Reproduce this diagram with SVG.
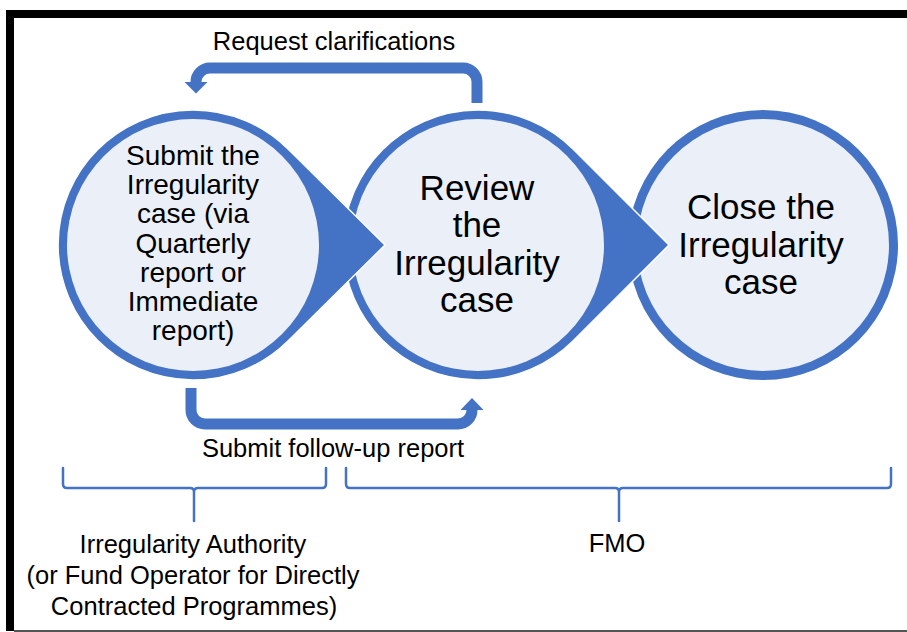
<svg xmlns="http://www.w3.org/2000/svg" width="907" height="632" viewBox="0 0 907 632">
  <style>
    .lbl { font-family: "Liberation Sans", Arial, sans-serif; fill: #000; text-anchor: middle; }
    .drop { fill: #4472C4; stroke: #fff; stroke-width: 1.5; stroke-linejoin: miter; }
    .inner { fill: #EAEFF8; }
    .shaft { fill: none; stroke: #4472C4; stroke-width: 11; }
    .head { fill: #4472C4; }
    .brace { fill: none; stroke: #4472C4; stroke-width: 2.5; stroke-linejoin: round; stroke-linecap: round; }
  </style>
  <rect width="907" height="632" fill="#fff"/>
  <g id="frame">
    <rect x="6" y="10" width="901" height="8" fill="#000"/>
    <rect x="6" y="10" width="8" height="621" fill="#000"/>
    <rect x="14" y="630" width="893" height="2" fill="#555"/>
  </g>

  <g id="node-close">
    <circle cx="763" cy="245" r="135" fill="#4472C4"/>
    <circle class="inner" cx="763" cy="245" r="126"/>
    <text class="lbl" font-size="35"><tspan x="761" y="219">Close the</tspan><tspan x="761" y="257">Irregularity</tspan><tspan x="761" y="294">case</tspan></text>
  </g>

  <g id="node-review">
    <path class="drop" d="M 669 245 L 573 149 A 135 135 0 1 0 573 341 Z"/>
    <circle class="inner" cx="478" cy="245" r="126"/>
    <text class="lbl" font-size="35"><tspan x="477" y="200">Review</tspan><tspan x="477" y="237">the</tspan><tspan x="477" y="275">Irregularity</tspan><tspan x="477" y="312">case</tspan></text>
  </g>

  <g id="node-submit">
    <path class="drop" d="M 385 245 L 288 149 A 135 135 0 1 0 288 341 Z"/>
    <circle class="inner" cx="193" cy="245" r="126"/>
    <text class="lbl" font-size="28"><tspan x="193" y="165">Submit the</tspan><tspan x="193" y="194">Irregularity</tspan><tspan x="193" y="223">case (via</tspan><tspan x="193" y="253">Quarterly</tspan><tspan x="193" y="282">report or</tspan><tspan x="193" y="311">Immediate</tspan><tspan x="193" y="340">report)</tspan></text>
  </g>

  <g id="connectors">
    <g id="conn-request">
      <path class="shaft" d="M 477 103 V 82 A 14 14 0 0 0 463 68 H 210 A 14 14 0 0 0 196 82 V 84"/>
      <polygon class="head" points="184.5,82 207.5,82 196,93.5"/>
      <text class="lbl" font-size="25.5" x="334" y="50">Request clarifications</text>
    </g>
    <g id="conn-followup">
      <path class="shaft" d="M 191 388 V 410 A 14 14 0 0 0 205 424 H 458 A 14 14 0 0 0 472 410 V 408"/>
      <polygon class="head" points="460.5,410 483.5,410 472,398"/>
      <text class="lbl" font-size="25.5" x="333" y="457">Submit follow-up report</text>
    </g>
  </g>

  <g id="group-authority">
    <path class="brace" d="M 63 468 V 484 Q 63 488 67 488 H 190 Q 194 488 194 492 V 521 M 194 492 Q 194 488 198 488 H 322 Q 326 488 326 484 V 468"/>
    <text class="lbl" font-size="25.5"><tspan x="193" y="553">Irregularity Authority</tspan><tspan x="193" y="584">(or Fund Operator for Directly</tspan><tspan x="194" y="615">Contracted Programmes)</tspan></text>
  </g>

  <g id="group-fmo">
    <path class="brace" d="M 346 468 V 484 Q 346 488 350 488 H 615 Q 619 488 619 492 V 521 M 619 492 Q 619 488 623 488 H 887 Q 891 488 891 484 V 468"/>
    <text class="lbl" font-size="25.5" x="617" y="552">FMO</text>
  </g>
</svg>
